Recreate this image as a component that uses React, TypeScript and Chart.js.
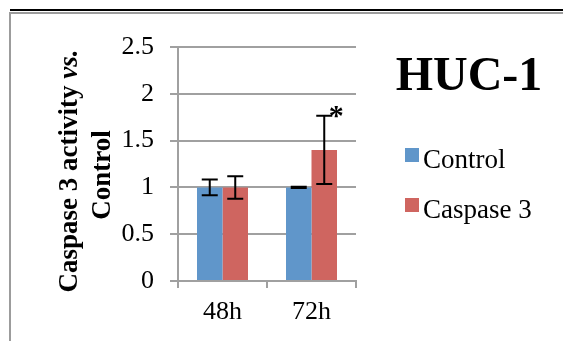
import React, { useEffect, useRef } from "react";
import { Chart, registerables } from "chart.js";

Chart.register(...registerables);

// ---- data ----
const categories = ["48h", "72h"];
const seriesNames = ["Control", "Caspase 3"];
const controlValues = [1.0, 1.0];
const caspaseValues = [1.0, 1.4];
const controlErrors = [0.085, 0.007];
const caspaseErrors = [0.12, 0.365];
const caspaseSignificance = ["", "*"];
const yTickValues = [0, 0.5, 1, 1.5, 2, 2.5];
const chartTitle = "HUC-1";
const yTitleLine1 = "Caspase 3 activity ";
const yTitleItalic = "vs.";
const yTitleLine2 = "Control";

// ---- styles ----
const SERIF = '"Liberation Serif", "DejaVu Serif", Times, serif';
const BLUE = "#6096ca";
const RED = "#cf6560";
const GRID = "#a0a0a0";

const errorSets = [controlErrors, caspaseErrors];
const sigSets = [["", ""], caspaseSignificance];

const decorPlugin = {
  id: "decor",
  beforeDraw(chart: any) {
    const ctx = chart.ctx;
    ctx.save();
    ctx.fillStyle = "#ffffff";
    ctx.fillRect(0, 0, chart.width, chart.height);
    ctx.fillStyle = "#000000";
    ctx.fillRect(10, 9, chart.width - 10, 2);
    ctx.fillStyle = "#9c9c9c";
    ctx.fillRect(9, 12, chart.width - 9, 2);
    ctx.fillRect(9, 12, 2, chart.height - 12);
    ctx.restore();
  },
  afterDatasetsDraw(chart: any) {
    const ctx = chart.ctx;
    const yScale = chart.scales.y;
    ctx.save();
    ctx.strokeStyle = "#000000";
    ctx.fillStyle = "#000000";
    ctx.lineWidth = 2;
    chart.data.datasets.forEach((ds: any, di: number) => {
      const meta = chart.getDatasetMeta(di);
      meta.data.forEach((bar: any, i: number) => {
        const v = ds.data[i] as number;
        const e = errorSets[di][i];
        const yTop = yScale.getPixelForValue(v + e);
        const yBot = yScale.getPixelForValue(v - e);
        const x = bar.x;
        ctx.beginPath();
        ctx.moveTo(x, yTop);
        ctx.lineTo(x, yBot);
        ctx.moveTo(x - 8, yTop);
        ctx.lineTo(x + 8, yTop);
        ctx.moveTo(x - 8, yBot);
        ctx.lineTo(x + 8, yBot);
        ctx.stroke();
        const s = sigSets[di][i];
        if (s) {
          ctx.font = `bold 30px ${SERIF}`;
          ctx.textAlign = "center";
          ctx.textBaseline = "alphabetic";
          ctx.fillText(s, x + 12, yTop + 9);
        }
      });
    });
    ctx.restore();
  },
  afterDraw(chart: any) {
    const ctx = chart.ctx;
    ctx.save();
    // title
    ctx.fillStyle = "#000000";
    ctx.font = `bold 48px ${SERIF}`;
    ctx.textAlign = "center";
    ctx.textBaseline = "alphabetic";
    ctx.fillText(chartTitle, 469, 90);

    // legend
    ctx.font = `27px ${SERIF}`;
    ctx.textAlign = "left";
    chart.data.datasets.forEach((ds: any, di: number) => {
      const top = 148 + di * 50;
      ctx.fillStyle = ds.backgroundColor;
      ctx.fillRect(405, top, 14, 14);
      ctx.fillStyle = "#000000";
      ctx.fillText(ds.label, 423, top + 19.5);
    });

    // y axis title (rotated, two lines, "vs." italic)
    const cy = 171;
    ctx.save();
    ctx.translate(77, cy);
    ctx.rotate(-Math.PI / 2);
    ctx.font = `bold 27px ${SERIF}`;
    const w1 = ctx.measureText(yTitleLine1).width;
    ctx.font = `italic bold 27px ${SERIF}`;
    const w2 = ctx.measureText(yTitleItalic).width;
    const start = -(w1 + w2) / 2;
    ctx.textAlign = "left";
    ctx.font = `bold 27px ${SERIF}`;
    ctx.fillText(yTitleLine1, start, 0);
    ctx.font = `italic bold 27px ${SERIF}`;
    ctx.fillText(yTitleItalic, start + w1, 0);
    ctx.restore();

    ctx.save();
    ctx.translate(110, cy + 4);
    ctx.rotate(-Math.PI / 2);
    ctx.font = `bold 27px ${SERIF}`;
    ctx.textAlign = "center";
    ctx.fillText(yTitleLine2, 0, 0);
    ctx.restore();

    ctx.restore();
  },
};

export default function App() {
  const ref = useRef<HTMLCanvasElement | null>(null);

  useEffect(() => {
    let chart: Chart | null = null;
    let cancelled = false;
    const fontsToLoad = [
      `26px ${SERIF}`,
      `bold 27px ${SERIF}`,
      `italic bold 27px ${SERIF}`,
    ];
    const build = () => {
      if (cancelled || !ref.current) return;
      chart = new Chart(ref.current, {
        type: "bar",
        data: {
          labels: categories,
          datasets: [
            {
              label: seriesNames[0],
              data: controlValues,
              backgroundColor: BLUE,
              borderWidth: 0,
              categoryPercentage: 0.573,
              barPercentage: 1.0,
            },
            {
              label: seriesNames[1],
              data: caspaseValues,
              backgroundColor: RED,
              borderWidth: 0,
              categoryPercentage: 0.573,
              barPercentage: 1.0,
            },
          ],
        },
        options: {
          responsive: false,
          animation: false,
          devicePixelRatio: 1,
          layout: { padding: { left: 0, top: 47, right: 207, bottom: 0 } },
          plugins: {
            legend: { display: false },
            title: { display: false },
            tooltip: { enabled: false },
          },
          scales: {
            x: {
              offset: true,
              grid: {
                offset: true,
                drawOnChartArea: false,
                drawTicks: true,
                tickLength: 7,
                color: GRID,
                lineWidth: 2,
              },
              border: { color: GRID, width: 2 },
              ticks: {
                color: "#000000",
                font: { family: SERIF, size: 26 },
                padding: 9,
              },
              afterFit: (s: any) => {
                s.height = 60;
              },
            },
            y: {
              min: 0,
              max: 2.5,
              afterBuildTicks: (s: any) => {
                s.ticks = yTickValues.map((v) => ({ value: v }));
              },
              grid: {
                color: GRID,
                lineWidth: 2,
                drawTicks: true,
                tickLength: 8,
              },
              border: { color: GRID, width: 2 },
              ticks: {
                color: "#000000",
                font: { family: SERIF, size: 26 },
                padding: 16,
                callback: (v: any) => String(v),
              },
              afterFit: (s: any) => {
                s.width = 178;
              },
            },
          },
        },
        plugins: [decorPlugin],
      });
    };
    const fontsApi: any = (document as any).fonts;
    if (fontsApi && fontsApi.load) {
      Promise.all(fontsToLoad.map((f) => fontsApi.load(f).catch(() => null)))
        .then(build, build);
    } else {
      build();
    }
    return () => {
      cancelled = true;
      if (chart) chart.destroy();
    };
  }, []);

  return (
    <div style={{ position: "absolute", left: 0, top: 0, width: 563, height: 341 }}>
      <canvas ref={ref} width={563} height={341} style={{ display: "block" }} />
    </div>
  );
}
